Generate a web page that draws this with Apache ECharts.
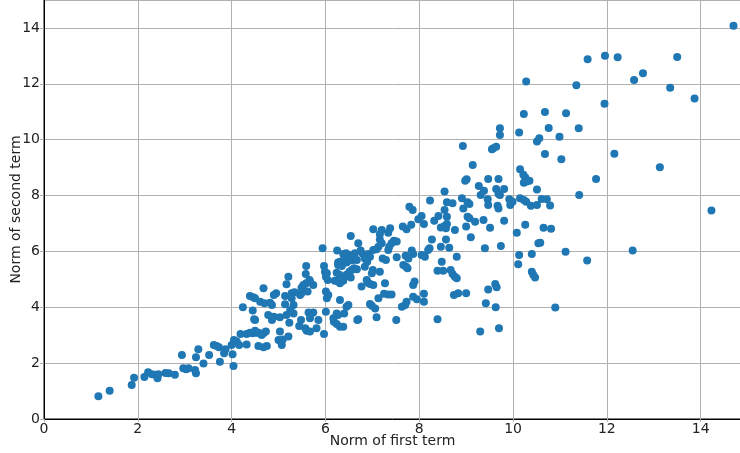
<!DOCTYPE html>
<html>
<head>
<meta charset="utf-8">
<script src="https://cdn.jsdelivr.net/npm/echarts@6/dist/echarts.min.js"></script>
<style>
  html, body { margin: 0; padding: 0; background: #fff; }
  #chart { width: 740px; height: 453px; }
</style>
</head>
<body>
<div id="chart"></div>
<script>
// norm of first term (x) / norm of second term (y)
const firstNorm = [
  1.16, 1.40, 1.87, 1.92, 2.14, 2.22, 2.30, 2.37, 2.42, 2.44, 2.59, 2.66, 2.79, 2.94, 2.97, 3.03, 3.08, 3.22, 3.24, 3.24,
  3.29, 3.40, 3.52, 3.62, 3.68, 3.73, 3.75, 3.84, 3.87, 4.00, 4.02, 4.05, 4.04, 4.11, 4.16, 4.19, 4.32, 4.32, 4.45, 4.54,
  4.57, 4.50,
  5.59, 5.97, 6.27, 6.35, 6.49, 6.59, 5.99, 6.01, 6.24, 6.30, 6.45, 6.56, 6.61, 5.58, 5.21, 5.17, 5.53, 5.59, 5.67, 5.74,
  5.49, 6.27, 6.31, 6.38, 4.68, 4.39, 4.46, 4.50, 4.95, 4.90, 5.14, 5.28, 5.34, 5.46, 5.49, 5.62, 4.61, 4.70, 4.82, 5.14,
  5.28, 5.32, 4.24, 4.45, 4.86, 5.25, 5.32, 5.64, 5.69, 5.74, 6.01, 6.03, 6.06, 6.01, 6.31, 6.45, 6.49, 6.24, 6.27, 6.40,
  4.78, 4.86, 4.90, 5.03, 4.48, 5.23, 5.48, 5.44, 5.67, 5.85, 6.17, 6.18, 6.24, 6.31, 6.38, 6.68, 5.57, 5.60, 5.67, 5.81,
  5.97, 5.03, 4.39, 4.50, 4.57, 4.68, 4.73, 4.64, 5.00, 5.05, 5.09, 5.21, 4.68, 4.75, 5.07, 5.17, 5.66,
  7.79, 7.86, 8.23, 8.05, 7.98, 8.10, 8.32, 8.41, 7.65, 7.73, 7.83, 7.02, 7.20, 7.16, 7.34, 7.38, 6.54, 6.70, 7.46, 7.52,
  7.41, 7.16, 7.20, 7.13, 7.09, 7.02, 7.36, 7.34, 8.27, 5.94, 6.25, 6.38, 6.44, 6.52, 6.63, 6.75, 6.80, 6.91, 6.95, 6.84,
  6.89, 7.84, 7.87, 8.05, 8.12, 7.71, 7.77, 7.22, 7.29, 7.52, 7.66, 7.72, 7.75, 6.31, 6.38, 6.45, 6.52, 6.67, 6.27, 6.35,
  6.67, 6.51, 6.84, 6.99, 7.01, 7.16, 8.39, 6.03, 6.05, 6.31, 6.20, 6.49, 6.54, 6.88, 6.91, 6.95, 7.02, 7.27, 6.77, 7.90,
  7.87, 7.25, 7.34, 7.41, 7.13, 6.95, 6.99, 7.06, 7.73, 7.70, 7.63, 7.87, 7.95, 8.10, 8.10, 7.09, 7.51, 6.70, 8.39,
  8.93, 9.55, 9.58, 9.64, 10.51, 9.14, 10.15, 10.22, 10.26, 10.23, 10.29, 10.35, 9.01, 8.98, 9.47, 9.69, 9.27, 9.38, 9.31, 9.64,
  9.81, 9.69, 10.51, 8.54, 8.59, 8.71, 8.91, 9.03, 9.07, 8.94, 9.46, 9.47, 9.67, 9.69, 9.92, 9.94, 9.99, 10.15, 10.23, 10.28,
  10.38, 10.51, 8.54, 8.59, 9.03, 9.07, 9.19, 9.37, 9.81, 8.46, 8.54, 8.59, 8.57, 8.76, 9.00, 9.10, 9.51, 10.08, 10.26, 8.57,
  8.46, 8.64, 8.22, 8.19, 9.40, 9.74, 8.80, 8.48, 8.51, 8.67, 8.71, 8.76, 8.80, 10.13, 10.11, 10.40, 10.40, 10.43, 10.47, 10.54,
  9.47, 9.62, 9.65,
  8.74, 8.83, 9.00, 9.42, 9.63, 10.90, 9.30, 9.70,
  10.28, 11.35, 12.58, 12.77, 13.35, 13.87, 11.95, 10.23, 10.68, 11.13, 10.13, 10.56, 10.76, 10.99, 11.40, 9.72, 9.72, 10.68, 11.03, 12.16,
  13.13, 11.77, 10.61, 10.72, 10.79, 11.41, 9.72, 14.23, 10.65, 10.81, 10.58, 11.12, 11.58, 12.55, 11.59, 11.96, 12.23, 13.50, 14.70
];
const secondNorm = [
  0.81, 1.01, 1.22, 1.48, 1.50, 1.67, 1.60, 1.58, 1.46, 1.60, 1.65, 1.64, 1.58, 2.29, 1.82, 1.78, 1.82, 1.75, 1.64, 2.21,
  2.50, 1.99, 2.29, 2.65, 2.61, 2.57, 2.05, 2.35, 2.50, 2.65, 2.32, 2.83, 1.90, 2.77, 2.65, 3.04, 3.04, 2.67, 3.07, 3.09,
  2.61, 3.54,
  5.48, 5.48, 5.60, 5.63, 5.69, 5.69, 5.27, 5.09, 5.24, 5.16, 5.16, 5.33, 5.40, 5.19, 5.09, 4.82, 4.80, 4.86, 4.92, 4.80,
  4.70, 4.92, 4.86, 4.95, 4.68, 4.40, 4.36, 4.32, 4.50, 4.44, 4.40, 4.50, 4.54, 4.44, 4.50, 4.56, 4.20, 4.14, 4.16, 4.11,
  4.32, 4.08, 4.00, 3.88, 4.08, 3.90, 3.78, 3.81, 3.76, 3.81, 3.84, 4.32, 4.44, 4.56, 4.26, 4.02, 4.08, 3.78, 3.72, 3.78,
  3.72, 3.54, 3.66, 3.64, 3.57, 3.45, 3.54, 3.33, 3.61, 3.54, 3.61, 3.48, 3.40, 3.30, 3.30, 3.54, 3.25, 3.16, 3.13, 3.25,
  3.04, 3.13, 3.09, 3.16, 3.09, 3.07, 3.13, 3.01, 2.83, 2.77, 2.85, 2.95, 2.57, 2.61, 2.65, 3.72, 4.98,
  7.60, 7.48, 7.82, 7.27, 7.15, 6.98, 7.10, 7.27, 6.89, 6.79, 6.95, 6.79, 6.77, 6.61, 6.67, 6.83, 6.55, 6.29, 6.38, 6.35,
  6.29, 6.43, 6.29, 6.17, 6.08, 6.05, 6.17, 6.05, 6.43, 6.11, 6.03, 5.91, 5.93, 5.87, 5.93, 6.03, 5.91, 5.91, 5.81, 5.75,
  5.63, 6.03, 5.91, 5.87, 5.81, 5.84, 5.75, 5.75, 5.69, 5.79, 5.51, 5.45, 5.40, 5.63, 5.67, 5.60, 5.67, 5.69, 5.51, 5.48,
  5.36, 5.27, 5.45, 5.22, 5.33, 5.27, 5.31, 5.22, 4.98, 4.98, 4.95, 5.12, 5.07, 4.98, 4.88, 4.83, 4.80, 4.86, 4.74, 4.92,
  4.80, 4.48, 4.46, 4.46, 4.32, 4.12, 4.05, 3.96, 4.20, 4.08, 4.02, 4.38, 4.29, 4.48, 4.20, 3.64, 3.54, 3.57, 3.57,
  9.77, 9.66, 9.69, 9.75, 9.93, 9.09, 8.94, 8.74, 8.65, 8.46, 8.50, 8.53, 8.58, 8.53, 8.59, 8.59, 8.34, 8.17, 8.02, 8.23,
  8.23, 8.06, 8.22, 8.14, 7.76, 7.72, 7.90, 7.76, 7.70, 7.54, 7.87, 7.66, 7.63, 7.54, 7.87, 7.66, 7.78, 7.90, 7.84, 7.78,
  7.63, 7.66, 7.48, 7.24, 7.24, 7.19, 7.06, 7.12, 7.10, 6.86, 6.91, 6.98, 6.83, 6.77, 6.89, 6.51, 6.85, 6.67, 6.95, 6.43,
  6.17, 6.13, 6.11, 6.05, 6.11, 6.19, 5.81, 5.63, 5.31, 5.33, 5.19, 5.09, 5.04, 5.87, 5.54, 5.91, 5.27, 5.16, 5.07, 6.29,
  4.64, 4.83, 4.72,
  4.44, 4.50, 4.50, 4.14, 4.00, 3.99, 3.13, 3.25,
  12.08, 11.95, 12.14, 12.38, 11.86, 11.47, 11.29, 10.92, 10.99, 10.95, 10.26, 10.05, 10.42, 10.10, 10.41, 10.41, 10.17, 9.49, 9.30, 9.50,
  9.01, 8.59, 7.88, 7.87, 7.64, 8.02, 8.02, 7.46, 6.85, 6.81, 6.31, 5.99, 5.67, 6.03, 12.88, 13.00, 12.95, 12.96, 14.08
];
const xTicks = [0, 2, 4, 6, 8, 10, 12, 14];
const yTicks = [0, 2, 4, 6, 8, 10, 12, 14];

const chart = echarts.init(document.getElementById('chart'));
const points = firstNorm.map((x, i) => [x, secondNorm[i]]);
const tickFont = { fontFamily: 'DejaVu Sans', fontSize: 14, color: '#222' };

const option = {
  animation: false,
  backgroundColor: '#fff',
  grid: {
    left: 44, right: -1, top: 0, bottom: 34,
    outerBoundsMode: 'none',
    containLabel: false,
    show: true, borderColor: '#000', borderWidth: 1
  },
  xAxis: {
    type: 'value',
    min: 0, max: 14.86, interval: 2,
    name: 'Norm of first term',
    nameLocation: 'middle',
    nameGap: 15,
    nameMoveOverlap: false,
    nameTextStyle: { fontFamily: 'DejaVu Sans', fontSize: 14, color: '#222', verticalAlign: 'top' },
    axisLine: { show: true, lineStyle: { color: '#000', width: 1 } },
    axisTick: { show: true, length: 3, lineStyle: { color: '#b0b0b0' } },
    axisLabel: Object.assign({ margin: 3, showMaxLabel: false,
      formatter: (v) => xTicks.includes(v) ? String(v) : '' }, tickFont),
    splitLine: { show: true, lineStyle: { color: '#b0b0b0', width: 1 } }
  },
  yAxis: {
    type: 'value',
    min: 0, max: 15, interval: 2,
    name: 'Norm of second term',
    nameLocation: 'middle',
    nameGap: 21,
    nameMoveOverlap: false,
    nameTextStyle: { fontFamily: 'DejaVu Sans', fontSize: 14, color: '#222' },
    axisLine: { show: true, lineStyle: { color: '#000', width: 1 } },
    axisTick: { show: true, length: 4, lineStyle: { color: '#b0b0b0' } },
    axisLabel: Object.assign({ margin: 4, showMaxLabel: false,
      formatter: (v) => yTicks.includes(v) ? String(v) : '' }, tickFont),
    splitLine: { show: true, lineStyle: { color: '#b0b0b0', width: 1 } }
  },
  series: [{
    type: 'scatter',
    data: points,
    symbolSize: 8,
    itemStyle: { color: '#1f77b4', opacity: 1 }
  }]
};
chart.setOption(option);
</script>
</body>
</html>
